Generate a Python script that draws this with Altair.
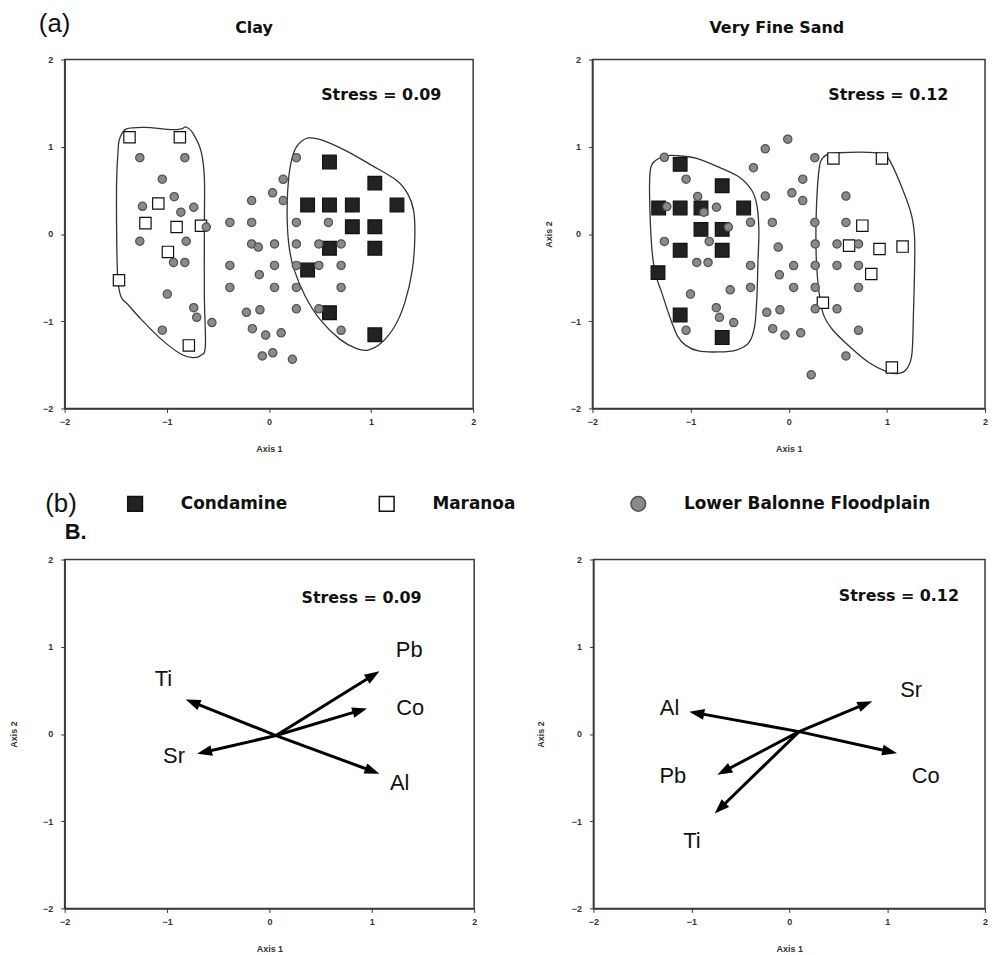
import math
import altair as alt
import pandas as pd

GROUPS = ["Condamine", "Maranoa", "Lower Balonne Floodplain"]

# ---------------- (a) Clay ----------------
clay_cond_x = [0.593, 1.037, 0.379, 0.593, 0.817, 1.254, 0.817, 1.037, 0.593, 1.037, 0.379, 0.593, 1.037]
clay_cond_y = [0.826, 0.583, 0.333, 0.333, 0.333, 0.333, 0.083, 0.083, -0.163, -0.163, -0.413, -0.902, -1.155]
clay_mar_x = [-1.365, -0.872, -1.083, -1.209, -0.904, -0.665, -0.989, -1.468, -0.784]
clay_mar_y = [1.110, 1.110, 0.350, 0.125, 0.080, 0.095, -0.205, -0.530, -1.277]
clay_lbf_x = [-1.264, -0.823, -1.044, -1.238, -0.927, -0.862, -0.736, -1.264, -0.810, -0.934, -0.823, -0.995,
              -0.736, -0.707, -0.558, -1.044, -0.613,
              -0.382, -0.169, -0.169, 0.036, 0.140, 0.140, 0.269, -0.169, -0.104, 0.055, -0.382, -0.094,
              0.055, -0.382, 0.055, -0.220, -0.088, -0.162, -0.032, 0.120, -0.065, 0.038, 0.230,
              0.269, 0.583, 0.269, 0.489, 0.707, 0.269, 0.489, 0.707, 0.269, 0.707, 0.269, 0.489, 0.707]
clay_lbf_y = [0.875, 0.875, 0.629, 0.318, 0.428, 0.250, 0.307, -0.083, -0.083, -0.326, -0.326, -0.689,
              -0.845, -0.955, -1.015, -1.102, 0.080,
              0.133, 0.133, 0.383, 0.473, 0.627, 0.383, 0.875, -0.114, -0.150, -0.114, -0.360, -0.466,
              -0.360, -0.612, -0.612, -0.898, -0.869, -1.085, -1.159, -1.133, -1.398, -1.362, -1.436,
              0.133, 0.133, -0.114, -0.114, -0.114, -0.360, -0.360, -0.360, -0.612, -0.612, -0.858, -0.858, -1.104]
clay_hull_left_x = [-1.459, -1.394, -1.216, -0.956, -0.859, -0.810, -0.746, -0.665, -0.632, -0.632, -0.632,
                    -0.622, -0.665, -0.746, -0.859, -1.053, -1.248, -1.378, -1.449, -1.481, -1.491, -1.491, -1.475]
clay_hull_left_y = [1.102, 1.205, 1.223, 1.197, 1.205, 1.227, 1.159, 0.951, 0.648, 0.042, -0.716,
                    -1.284, -1.390, -1.417, -1.379, -1.208, -0.981, -0.811, -0.716, -0.489, 0.042, 0.610, 0.989]
clay_hull_right_x = [0.389, 0.535, 0.762, 0.989, 1.248, 1.361, 1.417, 1.429, 1.404, 1.329, 1.232, 1.102,
                     0.972, 0.859, 0.697, 0.502, 0.357, 0.243, 0.194, 0.178, 0.194, 0.237, 0.292]
clay_hull_right_y = [1.102, 1.072, 0.951, 0.799, 0.617, 0.458, 0.269, -0.034, -0.413, -0.792, -1.057, -1.246,
                     -1.330, -1.314, -1.208, -0.981, -0.716, -0.394, -0.110, 0.269, 0.648, 0.913, 1.034]
clay_stress = 0.09

# ---------------- (a) Very Fine Sand ----------------
vfs_cond_x = [-1.106, -0.678, -1.325, -1.106, -0.894, -0.459, -0.894, -0.678, -1.106, -0.678, -1.332, -1.106, -0.678]
vfs_cond_y = [0.799, 0.553, 0.299, 0.299, 0.299, 0.299, 0.053, 0.053, -0.186, -0.186, -0.443, -0.928, -1.186]
vfs_mar_x = [0.455, 0.950, 0.750, 0.615, 0.925, 1.160, 0.841, 0.348, 1.051]
vfs_mar_y = [0.867, 0.867, 0.096, -0.133, -0.172, -0.144, -0.458, -0.788, -1.530]
vfs_lbf_x = [-1.267, -1.046, -0.928, -1.242, -0.865, -0.736, -0.615, -1.267, -0.810, -0.937, -0.822, -1.001,
             -0.738, -0.706, -0.561, -1.046, -0.596,
             -0.389, -0.389, -0.389, -0.359, -0.239, -0.010, -0.239, -0.167, 0.032, 0.143, 0.143, 0.266,
             -0.107, 0.050, -0.095, 0.050, -0.224, -0.090, -0.163, -0.038, 0.122, 0.229,
             0.266, 0.583, 0.583, 0.270, 0.492, 0.711, 0.270, 0.492, 0.711, 0.270, 0.711, 0.270, 0.492,
             0.711, 0.583]
vfs_lbf_y = [0.879, 0.629, 0.430, 0.315, 0.250, 0.307, 0.080, -0.085, -0.085, -0.326, -0.326, -0.689,
             -0.845, -0.955, -1.015, -1.104, -0.640,
             0.134, -0.360, -0.612, 0.761, 0.977, 1.087, 0.435, 0.133, 0.473, 0.629, 0.383, 0.875,
             -0.150, -0.362, -0.468, -0.612, -0.898, -0.869, -1.085, -1.159, -1.133, -1.614,
             0.133, 0.435, 0.133, -0.114, -0.114, -0.114, -0.360, -0.360, -0.360, -0.612, -0.612, -0.858,
             -0.858, -1.104, -1.398]
vfs_hull_left_x = [-1.393, -1.275, -1.140, -0.938, -0.702, -0.499, -0.374, -0.324, -0.304, -0.314, -0.324,
                   -0.347, -0.405, -0.533, -0.718, -0.921, -1.049, -1.133, -1.214, -1.292, -1.359, -1.393,
                   -1.413, -1.417]
vfs_hull_left_y = [0.799, 0.890, 0.898, 0.867, 0.761, 0.648, 0.496, 0.326, 0.042, -0.337, -0.716,
                   -1.057, -1.246, -1.330, -1.352, -1.341, -1.277, -1.170, -0.943, -0.678, -0.451, -0.186,
                   0.231, 0.610]
vfs_hull_right_x = [0.327, 0.395, 0.513, 0.816, 0.968, 1.035, 1.153, 1.248, 1.282, 1.282, 1.271, 1.255,
                    1.204, 1.120, 1.002, 0.816, 0.614, 0.445, 0.354, 0.310, 0.283, 0.277, 0.287, 0.304]
vfs_hull_right_y = [0.837, 0.913, 0.932, 0.936, 0.913, 0.830, 0.534, 0.231, -0.034, -0.413, -0.905, -1.379,
                    -1.542, -1.598, -1.580, -1.473, -1.284, -1.095, -0.924, -0.678, -0.337, 0.042, 0.420, 0.686]
vfs_stress = 0.12

# ---------------- (b) vectors ----------------
b1_elements = ["Pb", "Co", "Ti", "Sr", "Al"]
b1_origin_x = 0.065
b1_origin_y = -0.018
b1_tip_x = [1.075, 0.954, -0.818, -0.706, 1.075]
b1_tip_y = [0.718, 0.293, 0.396, -0.228, -0.456]
b1_label_x = [1.366, 1.376, -1.036, -0.932, 1.272]
b1_label_y = [0.958, 0.293, 0.627, -0.258, -0.562]
b1_stress = 0.09

b2_elements = ["Sr", "Al", "Co", "Pb", "Ti"]
b2_origin_x = 0.101
b2_origin_y = 0.027
b2_tip_x = [0.848, -1.020, 1.101, -0.734, -0.761]
b2_tip_y = [0.376, 0.255, -0.220, -0.467, -0.912]
b2_label_x = [1.246, -1.222, 1.394, -1.189, -0.993]
b2_label_y = [0.502, 0.293, -0.479, -0.479, -1.227]
b2_stress = 0.12

# ---------------- layout / style ----------------
W1, W2, W3, W4, H = 411, 395, 412, 394, 351
TICKS = [-2, -1, 0, 1, 2]
ARROW_PATH = "M0,0L0.36,1L-0.36,1Z"

SHAPE_SCALE = alt.Scale(domain=GROUPS, range=["square", "square", "circle"])
FILL_SCALE = alt.Scale(domain=GROUPS, range=["#222222", "#ffffff", "#8a8a8a"])
STROKE_SCALE = alt.Scale(domain=GROUPS, range=["#111111", "#111111", "#505050"])


def sc():
    return alt.Scale(domain=[-2, 2], nice=False, zero=False)


def xaxis():
    return alt.Axis(values=TICKS, format="d", title="Axis 1", grid=False, tickSize=4,
                    labelPadding=5, titlePadding=18, labelFlush=False)


def yaxis(show_title, pad):
    if show_title:
        return alt.Axis(values=TICKS, format="d", title="Axis 2", grid=False, tickSize=4,
                        labelPadding=8, titlePadding=pad, labelFlush=False)
    return alt.Axis(values=TICKS, format="d", title=None, grid=False, tickSize=4,
                    labelPadding=8, labelFlush=False)


def xy(xf, yf, ya):
    return dict(x=alt.X(xf, type="quantitative", scale=sc(), axis=xaxis()),
                y=alt.Y(yf, type="quantitative", scale=sc(), axis=ya))


def stress_layer(val, sx, sy, ya):
    df = pd.DataFrame({"label": [f"Stress = {val:.2f}"], "sx": [sx], "sy": [sy]})
    return alt.Chart(df).mark_text(font="DejaVu Sans", fontSize=16, fontWeight="bold",
                                   color="#111111").encode(text="label:N", **xy("sx", "sy", ya))


def scatter_panel(cx, cy, mx, my, lx, ly, hulls, stress, spos, ya):
    rows = []
    for g, xs_, ys_ in [(GROUPS[0], cx, cy), (GROUPS[1], mx, my), (GROUPS[2], lx, ly)]:
        for a, b in zip(xs_, ys_):
            rows.append({"group": g, "ax1": a, "ax2": b})
    pts = pd.DataFrame(rows)
    hrows = []
    for h, (hx, hy) in enumerate(hulls):
        for i, (a, b) in enumerate(zip(hx, hy)):
            hrows.append({"hull": h, "i": i, "ax1": a, "ax2": b})
    hdf = pd.DataFrame(hrows)

    hull = alt.Chart(hdf).mark_line(interpolate="cardinal-closed", color="#333333",
                                    strokeWidth=1.3).encode(
        order="i:Q", detail="hull:N", **xy("ax1", "ax2", ya))
    enc = dict(xy("ax1", "ax2", ya))
    enc["shape"] = alt.Shape("group:N", scale=SHAPE_SCALE, legend=None)
    enc["fill"] = alt.Fill("group:N", scale=FILL_SCALE, legend=None)
    enc["stroke"] = alt.Stroke("group:N", scale=STROKE_SCALE, legend=None)
    enc["size"] = alt.Size("group:N", scale=alt.Scale(domain=GROUPS, range=[190, 70, 32]), legend=None)
    points = alt.Chart(pts).mark_point(filled=True, opacity=1, strokeWidth=1.2).encode(**enc)
    return alt.layer(hull, points, stress_layer(stress, spos[0], spos[1], ya))


def vector_panel(elements, ox, oy, tx, ty, lx, ly, stress, spos, width, ya):
    kx, ky = width / 4.0, H / 4.0
    rows = []
    for e, x1, y1, xl, yl in zip(elements, tx, ty, lx, ly):
        dxp, dyp = (x1 - ox) * kx, (y1 - oy) * ky
        length = math.hypot(dxp, dyp)
        back = 8.0 / length
        ang = math.degrees(math.atan2(dxp, dyp)) % 360
        rows.append({"el": e, "x0": ox, "y0": oy,
                     "xe": x1 - (x1 - ox) * back, "ye": y1 - (y1 - oy) * back,
                     "xt": x1, "yt": y1, "ang": ang, "xl": xl, "yl": yl})
    df = pd.DataFrame(rows)
    shafts = alt.Chart(df).mark_rule(color="black", strokeWidth=3).encode(
        x2="xe:Q", y2="ye:Q", **xy("x0", "y0", ya))
    heads = alt.Chart(df).mark_point(shape=ARROW_PATH, filled=True, size=900, color="black",
                                     opacity=1, strokeWidth=0).encode(
        angle=alt.Angle("ang:Q", scale=None), **xy("xt", "yt", ya))
    labels = alt.Chart(df).mark_text(font="Liberation Sans", fontSize=22, color="#111111").encode(
        text="el:N", **xy("xl", "yl", ya))
    return alt.layer(shafts, heads, labels, stress_layer(stress, spos[0], spos[1], ya))


p1 = scatter_panel(clay_cond_x, clay_cond_y, clay_mar_x, clay_mar_y, clay_lbf_x, clay_lbf_y,
                   [(clay_hull_left_x, clay_hull_left_y), (clay_hull_right_x, clay_hull_right_y)],
                   clay_stress, (1.10, 1.59), yaxis(False, 0)).properties(
    width=W1, height=H,
    title=alt.TitleParams("Clay", font="DejaVu Sans", fontSize=16, fontWeight="bold", offset=20,
                          frame="group", anchor="middle", dx=-15, color="#111111"))

p2 = scatter_panel(vfs_cond_x, vfs_cond_y, vfs_mar_x, vfs_mar_y, vfs_lbf_x, vfs_lbf_y,
                   [(vfs_hull_left_x, vfs_hull_left_y), (vfs_hull_right_x, vfs_hull_right_y)],
                   vfs_stress, (1.015, 1.59), yaxis(True, 17)).properties(
    width=W2, height=H,
    title=alt.TitleParams("Very Fine Sand", font="DejaVu Sans", fontSize=16, fontWeight="bold", offset=20,
                          frame="group", anchor="middle", dx=-12, color="#111111"))

p3 = vector_panel(b1_elements, b1_origin_x, b1_origin_y, b1_tip_x, b1_tip_y, b1_label_x, b1_label_y,
                  b1_stress, (0.90, 1.555), W3, yaxis(True, 24)).properties(
    width=W3, height=H,
    title=alt.TitleParams("B.", font="Liberation Sans", fontSize=22, fontWeight="bold", offset=12,
                          frame="group", anchor="start", dx=0, color="#111111"))

p4 = vector_panel(b2_elements, b2_origin_x, b2_origin_y, b2_tip_x, b2_tip_y, b2_label_x, b2_label_y,
                  b2_stress, (1.12, 1.578), W4, yaxis(True, 26)).properties(width=W4, height=H)

# ---------------- legend row ----------------
legend_df = pd.DataFrame({"group": GROUPS})
leg_base = alt.Chart(legend_df).encode(
    x=alt.X("group:N", scale=alt.Scale(type="point", domain=GROUPS, padding=0.28), axis=None, sort=GROUPS))
leg_sym = leg_base.mark_point(filled=True, opacity=1, size=220, strokeWidth=1.5).encode(
    shape=alt.Shape("group:N", scale=SHAPE_SCALE, legend=None),
    fill=alt.Fill("group:N", scale=FILL_SCALE, legend=None),
    stroke=alt.Stroke("group:N", scale=STROKE_SCALE, legend=None))
leg_txt = leg_base.mark_text(align="left", dx=46, font="DejaVu Sans", fontSize=17, fontWeight="bold",
                             color="#111111").encode(text="group:N")
legend_row = alt.layer(leg_sym, leg_txt).properties(
    width=648, height=20, view=alt.ViewBackground(stroke="transparent"),
    title=alt.TitleParams("(b)", orient="left", angle=0, align="right", baseline="middle",
                          anchor="middle", frame="group", offset=-44, font="Liberation Sans",
                          fontSize=26, fontWeight="normal", color="#111111"))

row1 = alt.hconcat(p1, p2, spacing=120, bounds="flush",
                   title=alt.TitleParams("(a)", font="Liberation Sans", fontSize=26, fontWeight="normal",
                                         anchor="start", offset=-18, dx=-3, color="#111111"))
row2 = alt.hconcat(p3, p4, spacing=120, bounds="flush")

top = alt.vconcat(row1, legend_row, spacing=36)
chart = alt.vconcat(top, row2, spacing=2).properties(
    padding={"left": 0, "top": 0, "right": 0, "bottom": 0}
).configure_axis(
    labelFont="Liberation Sans", labelFontSize=9, labelFontWeight="bold", labelColor="#333333",
    titleFont="Liberation Sans", titleFontSize=9, titleFontWeight="bold", titleColor="#333333",
    domainColor="#3a3a3a", domainWidth=1.5, tickColor="#3a3a3a", tickWidth=1
).configure_view(stroke="#3a3a3a", strokeWidth=1.5)

chart.save("out.html", embed_options={"renderer": "svg", "actions": False})
